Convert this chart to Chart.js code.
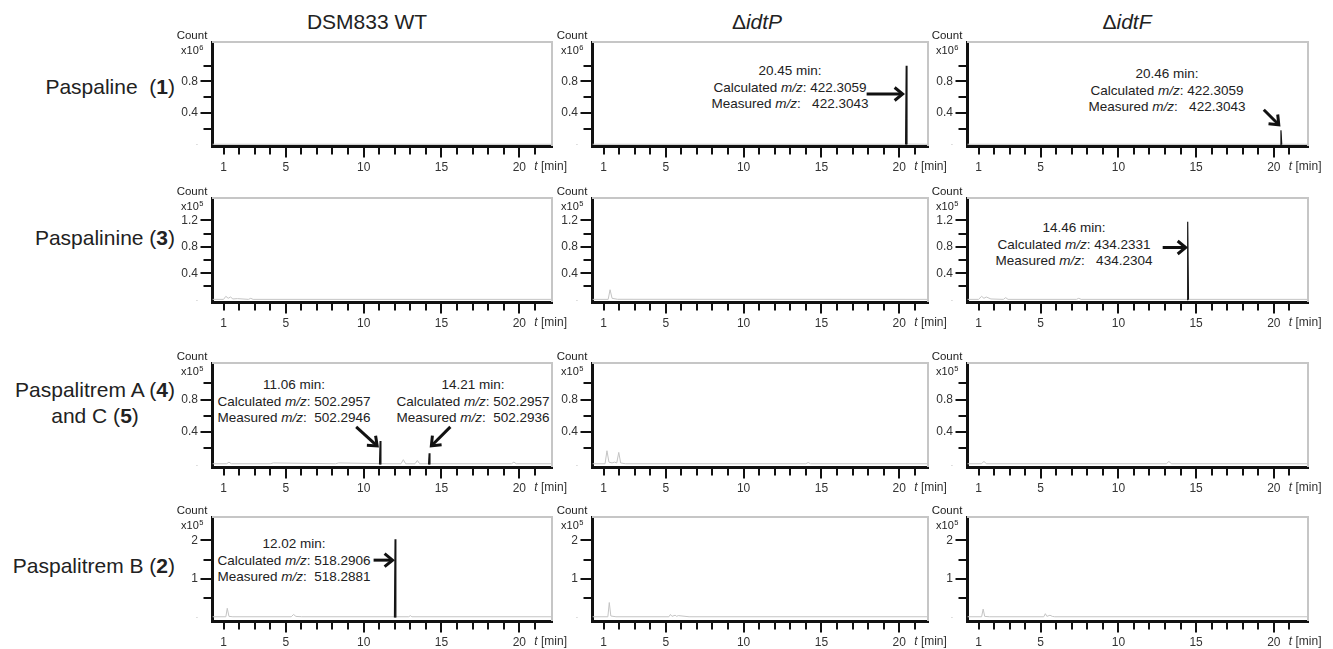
<!DOCTYPE html>
<html>
<head>
<meta charset="utf-8">
<script src="https://cdn.jsdelivr.net/npm/chart.js@4.4.1/dist/chart.umd.min.js"></script>
<style>
html,body{margin:0;padding:0;background:#fff;}
body{width:1333px;height:649px;position:relative;overflow:hidden;font-family:"Liberation Sans",Arial,sans-serif;color:#222;}
.panel{position:absolute;}
.panel canvas{display:block;}
.hdr{position:absolute;font-size:21px;white-space:nowrap;transform:translate(-50%,-50%);}
.rowlab{position:absolute;font-size:21px;white-space:pre;text-align:center;transform:translate(-100%,-50%);line-height:26px;}
.ann{position:absolute;font-size:13.5px;line-height:16.5px;text-align:center;white-space:pre;transform:translateX(-50%);}
</style>
</head>
<body>
<script>
// ---------------- DATA ----------------
const columnTitles = ['DSM833 WT', 'ΔidtP', 'ΔidtF'];
const rowTitles = ['Paspaline  (1)', 'Paspalinine (3)', 'Paspalitrem A (4)\nand C (5)', 'Paspalitrem B (2)'];
const rowExponents = [6, 5, 5, 5];

const timeTicks = [1,2,3,4,5,6,7,8,9,10,11,12,13,14,15,16,17,18,19,20,21];
const timeLabels = [1, 5, 10, 15, 20];

const yLabeled_r1 = [0.4, 0.8];      const yMinor_r1 = [0.2, 0.6, 1.0];
const yLabeled_r2 = [0.4, 0.8, 1.2]; const yMinor_r2 = [0.2, 0.6, 1.0];
const yLabeled_r3 = [0.4, 0.8];      const yMinor_r3 = [0.2, 0.6, 1.0];
const yLabeled_r4 = [1, 2];          const yMinor_r4 = [0.5, 1.5];

// Row 1: Paspaline (1), count x10^6
const r1_wt_noise_t   = [0.3, 22.1];
const r1_wt_noise_v   = [0.002, 0.002];
const r1_idtP_noise_t = [0.3, 20.3, 20.6, 21.85];
const r1_idtP_noise_v = [0.002, 0.002, 0.004, 0.002];
const r1_idtP_peak_t  = [20.41, 20.45, 20.5];
const r1_idtP_peak_v  = [0, 1.0, 0];
const r1_idtF_noise_t = [0.3, 22.2];
const r1_idtF_noise_v = [0.002, 0.002];
const r1_idtF_peak_t  = [20.42, 20.46, 20.51];
const r1_idtF_peak_v  = [0, 0.18, 0];

// Row 2: Paspalinine (3), count x10^5
const r2_wt_noise_t   = [0.3, 1.0, 1.15, 1.3, 1.45, 1.6, 1.9, 2.6, 2.75, 2.9, 22.1];
const r2_wt_noise_v   = [0.004, 0.004, 0.05, 0.02, 0.04, 0.01, 0.015, 0.004, 0.02, 0.004, 0.004];
const r2_idtP_noise_t = [0.3, 1.3, 1.42, 1.55, 1.9, 21.85];
const r2_idtP_noise_v = [0.004, 0.004, 0.15, 0.02, 0.005, 0.004];
const r2_idtF_noise_t = [0.3, 1.0, 1.2, 1.35, 1.5, 1.8, 2.6, 2.75, 2.9, 7.3, 7.45, 7.6, 22.2];
const r2_idtF_noise_v = [0.004, 0.004, 0.05, 0.02, 0.04, 0.01, 0.004, 0.03, 0.004, 0.004, 0.02, 0.004, 0.004];
const r2_idtF_peak_t  = [14.42, 14.46, 14.51];
const r2_idtF_peak_v  = [0, 1.18, 0];

// Row 3: Paspalitrem A (4) and C (5), count x10^5
const r3_wt_noise_t   = [0.3, 1.2, 1.35, 1.5, 4.0, 4.2, 8.2, 8.4, 11.5, 12.4, 12.55, 12.7, 13.3, 13.45, 13.6, 19.5, 19.65, 19.8, 22.1];
const r3_wt_noise_v   = [0.01, 0.01, 0.03, 0.01, 0.01, 0.02, 0.01, 0.02, 0.01, 0.01, 0.06, 0.01, 0.01, 0.05, 0.01, 0.01, 0.03, 0.01, 0.01];
const r3_wt_peak_t    = [11.02, 11.06, 11.11, 12.7, 14.17, 14.21, 14.26];
const r3_wt_peak_v    = [0, 0.29, 0, null, 0, 0.14, 0];
const r3_idtP_noise_t = [0.3, 1.1, 1.22, 1.35, 1.55, 1.7, 1.85, 1.98, 2.1, 2.4, 14.0, 14.15, 14.3, 21.85];
const r3_idtP_noise_v = [0.01, 0.01, 0.17, 0.03, 0.02, 0.03, 0.02, 0.15, 0.02, 0.01, 0.01, 0.025, 0.01, 0.01];
const r3_idtF_noise_t = [0.3, 1.2, 1.35, 1.5, 13.1, 13.25, 13.4, 22.2];
const r3_idtF_noise_v = [0.01, 0.01, 0.04, 0.01, 0.01, 0.04, 0.01, 0.01];

// Row 4: Paspalitrem B (2), count x10^5
const r4_wt_noise_t   = [0.3, 1.15, 1.24, 1.35, 1.6, 5.35, 5.5, 5.65, 6.0, 12.9, 13.0, 13.1, 22.1];
const r4_wt_noise_v   = [0.02, 0.02, 0.24, 0.03, 0.02, 0.02, 0.08, 0.03, 0.02, 0.02, 0.05, 0.02, 0.02];
const r4_wt_peak_t    = [11.98, 12.02, 12.07];
const r4_wt_peak_v    = [0, 2.03, 0];
const r4_idtP_noise_t = [0.3, 1.28, 1.37, 1.47, 1.8, 5.2, 5.3, 5.4, 5.6, 5.7, 5.8, 6.5, 21.85];
const r4_idtP_noise_v = [0.02, 0.02, 0.39, 0.04, 0.02, 0.02, 0.08, 0.03, 0.06, 0.03, 0.05, 0.02, 0.02];
const r4_idtF_noise_t = [0.3, 1.2, 1.3, 1.4, 1.7, 5.2, 5.3, 5.4, 5.6, 5.75, 5.9, 22.2];
const r4_idtF_noise_v = [0.02, 0.02, 0.22, 0.03, 0.02, 0.02, 0.1, 0.03, 0.06, 0.03, 0.02, 0.02];

// Annotation texts
const ann_r1_idtP = ['20.45 min:', 'Calculated <i>m/z</i>: 422.3059', 'Measured <i>m/z</i>:   422.3043'];
const ann_r1_idtF = ['20.46 min:', 'Calculated <i>m/z</i>: 422.3059', 'Measured <i>m/z</i>:   422.3043'];
const ann_r2_idtF = ['14.46 min:', 'Calculated <i>m/z</i>: 434.2331', 'Measured <i>m/z</i>:   434.2304'];
const ann_r3_wt_a = ['11.06 min:', 'Calculated <i>m/z</i>: 502.2957', 'Measured <i>m/z</i>:  502.2946'];
const ann_r3_wt_b = ['14.21 min:', 'Calculated <i>m/z</i>: 502.2957', 'Measured <i>m/z</i>:  502.2936'];
const ann_r4_wt   = ['12.02 min:', 'Calculated <i>m/z</i>: 518.2906', 'Measured <i>m/z</i>:  518.2881'];

// ---------------- LAYOUT ----------------
const FONT = '"Liberation Sans", Arial, sans-serif';
const X_MIN = 0.26;
const PX_PER_MIN = 15.55;
const colLayout = [ {left: 212, xmax: 22.1}, {left: 592, xmax: 21.85}, {left: 967, xmax: 22.2} ];
const rowLayout = [
  {top: 42,  bottom: 146, ymin: -0.02,  ymax: 1.3,  labeled: yLabeled_r1, minor: yMinor_r1},
  {top: 198, bottom: 302, ymin: -0.036, ymax: 1.54, labeled: yLabeled_r2, minor: yMinor_r2},
  {top: 363, bottom: 467, ymin: -0.03,  ymax: 1.25, labeled: yLabeled_r3, minor: yMinor_r3},
  {top: 517, bottom: 621, ymin: -0.09,  ymax: 2.61, labeled: yLabeled_r4, minor: yMinor_r4}
];

const panels = [
  {r:0, c:0, nt:r1_wt_noise_t,   nv:r1_wt_noise_v},
  {r:0, c:1, nt:r1_idtP_noise_t, nv:r1_idtP_noise_v, pt:r1_idtP_peak_t, pv:r1_idtP_peak_v, arrows:[{t:20.22, v:0.64, dx:-36, dy:0}]},
  {r:0, c:2, nt:r1_idtF_noise_t, nv:r1_idtF_noise_v, pt:r1_idtF_peak_t, pv:r1_idtF_peak_v, arrows:[{t:20.32, v:0.25, dx:-15, dy:-15}]},
  {r:1, c:0, nt:r2_wt_noise_t,   nv:r2_wt_noise_v},
  {r:1, c:1, nt:r2_idtP_noise_t, nv:r2_idtP_noise_v},
  {r:1, c:2, nt:r2_idtF_noise_t, nv:r2_idtF_noise_v, pt:r2_idtF_peak_t, pv:r2_idtF_peak_v, arrows:[{t:14.33, v:0.79, dx:-23, dy:0}]},
  {r:2, c:0, nt:r3_wt_noise_t,   nv:r3_wt_noise_v, pt:r3_wt_peak_t, pv:r3_wt_peak_v,
     arrows:[{t:10.87, v:0.23, dx:-21, dy:-19}, {t:14.35, v:0.23, dx:19, dy:-19}]},
  {r:2, c:1, nt:r3_idtP_noise_t, nv:r3_idtP_noise_v},
  {r:2, c:2, nt:r3_idtF_noise_t, nv:r3_idtF_noise_v},
  {r:3, c:0, nt:r4_wt_noise_t,   nv:r4_wt_noise_v, pt:r4_wt_peak_t, pv:r4_wt_peak_v, arrows:[{t:11.86, v:1.49, dx:-19, dy:0}]},
  {r:3, c:1, nt:r4_idtP_noise_t, nv:r4_idtP_noise_v},
  {r:3, c:2, nt:r4_idtF_noise_t, nv:r4_idtF_noise_v}
];

const headerPos = [ {x: 367, y: 22}, {x: 757, y: 22}, {x: 1127, y: 22} ];
const rowLabelPos = [ {x: 175, y: 87}, {x: 175, y: 238}, {x: 175, y: 403}, {x: 175, y: 566} ];
const annotations = [
  {lines: ann_r1_idtP, x: 790,  y: 63},
  {lines: ann_r1_idtF, x: 1167, y: 66},
  {lines: ann_r2_idtF, x: 1074, y: 220},
  {lines: ann_r3_wt_a, x: 294,  y: 377},
  {lines: ann_r3_wt_b, x: 473,  y: 377},
  {lines: ann_r4_wt,   x: 294,  y: 536}
];

// ---------------- TEXT ----------------
columnTitles.forEach((t, i) => {
  const d = document.createElement('div');
  d.className = 'hdr';
  d.style.left = headerPos[i].x + 'px'; d.style.top = headerPos[i].y + 'px';
  if (t.startsWith('Δ')) d.innerHTML = 'Δ<i>' + t.slice(1) + '</i>'; else d.textContent = t;
  document.body.appendChild(d);
});
rowTitles.forEach((t, i) => {
  const d = document.createElement('div');
  d.className = 'rowlab';
  d.style.left = rowLabelPos[i].x + 'px'; d.style.top = rowLabelPos[i].y + 'px';
  d.innerHTML = t.replace(/\((\d)\)/g, '(<b>$1</b>)');
  document.body.appendChild(d);
});
annotations.forEach(a => {
  const d = document.createElement('div');
  d.className = 'ann';
  d.style.left = a.x + 'px'; d.style.top = a.y + 'px';
  d.innerHTML = a.lines.join('\n');
  document.body.appendChild(d);
});

// ---------------- CHARTS ----------------
function toPoints(ts, vs) { return ts.map((t, i) => ({x: t, y: vs[i]})); }

function drawArrow(ctx, x1, y1, x2, y2) {
  const ang = Math.atan2(y2 - y1, x2 - x1);
  const L = 8, W = 6.5;
  ctx.save();
  ctx.strokeStyle = '#111'; ctx.lineWidth = 3; ctx.lineCap = 'butt'; ctx.lineJoin = 'miter';
  ctx.beginPath();
  ctx.moveTo(x1, y1);
  ctx.lineTo(x2 - Math.cos(ang) * 2, y2 - Math.sin(ang) * 2);
  ctx.stroke();
  const bx = x2 - Math.cos(ang) * L, by = y2 - Math.sin(ang) * L;
  const px = -Math.sin(ang) * W, py = Math.cos(ang) * W;
  ctx.beginPath();
  ctx.moveTo(bx + px, by + py);
  ctx.lineTo(x2, y2);
  ctx.lineTo(bx - px, by - py);
  ctx.stroke();
  ctx.restore();
}

const PADL = 46, PADT = 24, PADR = 22, PADB = 30;

panels.forEach(p => {
  const col = colLayout[p.c], row = rowLayout[p.r];
  const plotW = Math.round((col.xmax - X_MIN) * PX_PER_MIN);
  const plotH = row.bottom - row.top;
  const div = document.createElement('div');
  div.className = 'panel';
  div.style.left = (col.left - PADL) + 'px';
  div.style.top = (row.top - PADT) + 'px';
  div.style.width = (plotW + PADL + PADR) + 'px';
  div.style.height = (plotH + PADT + PADB) + 'px';
  const canvas = document.createElement('canvas');
  div.appendChild(canvas);
  document.body.appendChild(div);

  const exp = rowExponents[p.r];
  const yTicks = [0].concat(row.minor, row.labeled).sort((a, b) => a - b);

  const decor = {
    id: 'decor',
    afterDraw(chart) {
      const {ctx, chartArea: a, scales: {x, y}} = chart;
      ctx.save();
      ctx.strokeStyle = '#c6c6c6'; ctx.lineWidth = 2;
      ctx.beginPath(); ctx.moveTo(a.left, a.top); ctx.lineTo(a.right, a.top); ctx.lineTo(a.right, a.bottom); ctx.stroke();
      ctx.strokeStyle = '#111'; ctx.lineWidth = 2;
      timeTicks.forEach(t => {
        const px = Math.round(x.getPixelForValue(t));
        const len = (timeLabels.includes(t) && t !== 1) ? 10 : 7;
        ctx.beginPath(); ctx.moveTo(px, a.bottom); ctx.lineTo(px, a.bottom + 1.5 + len); ctx.stroke();
      });
      row.minor.concat(row.labeled).forEach(v => {
        const py = Math.round(y.getPixelForValue(v));
        const len = row.labeled.includes(v) ? 10 : 7;
        ctx.beginPath(); ctx.moveTo(a.left, py); ctx.lineTo(a.left - 1.5 - len, py); ctx.stroke();
      });
      ctx.fillStyle = '#222';
      ctx.textBaseline = 'middle'; ctx.textAlign = 'left';
      ctx.font = '11.5px ' + FONT;
      const cw = ctx.measureText('Count').width;
      const cx = a.left - 20;
      ctx.fillText('Count', cx - cw / 2, a.top - 6.5);
      ctx.font = '11px ' + FONT;
      const w1 = ctx.measureText('x10').width;
      ctx.font = '7.5px ' + FONT;
      const w2 = ctx.measureText(String(exp)).width;
      const sx = cx - (w1 + w2) / 2;
      ctx.font = '11px ' + FONT;
      ctx.fillText('x10', sx, a.top + 9);
      ctx.font = '7.5px ' + FONT;
      ctx.fillText(String(exp), sx + w1 + 0.5, a.top + 5.5);
      const tx = x.getPixelForValue(20) + 15, ty = a.bottom + 21;
      ctx.fillStyle = '#333';
      ctx.font = 'italic 12px ' + FONT;
      ctx.fillText('t', tx, ty);
      const tw = ctx.measureText('t').width;
      ctx.font = '12px ' + FONT;
      ctx.fillText(' [min]', tx + tw, ty);
      (p.arrows || []).forEach(ar => {
        const x2 = x.getPixelForValue(ar.t), y2 = y.getPixelForValue(ar.v);
        drawArrow(ctx, x2 + ar.dx, y2 + ar.dy, x2, y2);
      });
      ctx.restore();
    }
  };

  const datasets = [
    { data: toPoints(p.nt, p.nv), borderColor: '#c4c4c4', borderWidth: 1, pointRadius: 0, tension: 0, order: 2 }
  ];
  if (p.pt) datasets.push({ data: toPoints(p.pt, p.pv), borderColor: '#151515', backgroundColor: '#151515', fill: 'origin', borderWidth: 1.2, pointRadius: 0, tension: 0, spanGaps: false, order: 1 });

  new Chart(canvas, {
    type: 'line',
    data: { datasets },
    options: {
      responsive: true, maintainAspectRatio: false, animation: false,
      events: [],
      layout: { padding: { top: PADT, right: PADR, left: 0, bottom: 0 } },
      plugins: { legend: { display: false }, tooltip: { enabled: false } },
      scales: {
        x: {
          type: 'linear', min: X_MIN, max: col.xmax,
          border: { display: true, color: '#111', width: 3 },
          grid: { display: true, drawOnChartArea: false, drawTicks: true, tickLength: 11, tickColor: 'rgba(0,0,0,0)' },
          ticks: { autoSkip: false, maxRotation: 0, padding: 3, color: '#333', font: { family: FONT, size: 12 },
                   callback: v => timeLabels.includes(v) ? String(v) : '' },
          afterBuildTicks: s => { s.ticks = timeTicks.map(v => ({ value: v })); },
          afterFit: s => { s.height = PADB; }
        },
        y: {
          type: 'linear', min: row.ymin, max: row.ymax,
          border: { display: true, color: '#111', width: 3 },
          grid: { display: true, drawOnChartArea: false, drawTicks: true, tickLength: 11, tickColor: 'rgba(0,0,0,0)' },
          ticks: { autoSkip: false, padding: 3,
                   color: c => (c.tick && c.tick.value === 0) ? '#bbb' : '#333',
                   font: c => ({ family: FONT, size: (c.tick && c.tick.value === 0) ? 7 : 12 }),
                   callback: v => v === 0 ? '-' : (row.labeled.includes(v) ? String(v) : '') },
          afterBuildTicks: s => { s.ticks = yTicks.map(v => ({ value: v })); },
          afterFit: s => { s.width = PADL; }
        }
      }
    },
    plugins: [decor]
  });
});
</script>
</body>
</html>
